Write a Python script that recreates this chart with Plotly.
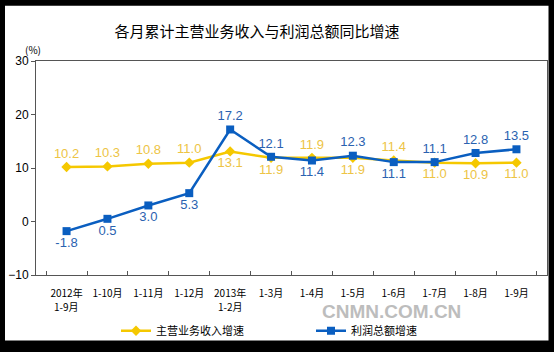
import plotly.graph_objects as go

categories = ["2012年1-9月", "1-10月", "1-11月", "1-12月", "2013年1-2月",
              "1-3月", "1-4月", "1-5月", "1-6月", "1-7月", "1-8月", "1-9月"]
tick_labels = ["2012年", "1-10月", "1-11月", "1-12月", "2013年",
               "1-3月", "1-4月", "1-5月", "1-6月", "1-7月", "1-8月", "1-9月"]
second_row = {"2012年1-9月": "1-9月", "2013年1-2月": "1-2月"}
revenue = [10.2, 10.3, 10.8, 11.0, 13.1, 11.9, 11.9, 11.9, 11.4, 11.0, 10.9, 11.0]
profit = [-1.8, 0.5, 3.0, 5.3, 17.2, 12.1, 11.4, 12.3, 11.1, 11.1, 12.8, 13.5]
revenue_pos = ["top center"] * 4 + ["bottom center", "bottom center", "top center", "bottom center",
                                    "top center", "bottom center", "bottom center", "bottom center"]
profit_pos = ["bottom center"] * 4 + ["top center", "top center", "bottom center", "top center",
                                      "bottom center", "top center", "top center", "top center"]
y_ticks = [-10, 0, 10, 20, 30]

W, H = 554, 352
L, R, T, B = 36, 7, 61, 72
pw, ph = W - L - R, H - T - B

def px(x):
    return (x - L) / pw

def py(y):
    return (H - B - y) / ph

YELLOW = "#F5C800"
BLUE = "#0A5EC0"
CJK = "Noto Sans CJK SC"

fig = go.Figure()
fig.add_trace(go.Scatter(
    x=categories, y=revenue, name="主营业务收入增速", mode="lines+markers+text",
    line=dict(color=YELLOW, width=2.5),
    marker=dict(symbol="diamond", size=8, color=YELLOW),
    text=[f"{v:.1f}" for v in revenue], textposition=revenue_pos,
    textfont=dict(family="Liberation Sans, Arial", size=13, color="#EDC445"),
    cliponaxis=False,
))
fig.add_trace(go.Scatter(
    x=categories, y=profit, name="利润总额增速", mode="lines+markers+text",
    line=dict(color=BLUE, width=2.5),
    marker=dict(symbol="square", size=8, color=BLUE),
    text=[f"{v:.1f}" for v in profit], textposition=profit_pos,
    textfont=dict(family="Liberation Sans, Arial", size=13, color="#2A62B0"),
    cliponaxis=False,
))

annotations = [
    dict(text="(%)", xref="paper", yref="paper", x=px(33), y=py(49), showarrow=False,
         font=dict(family=CJK, size=10, color="black"), xanchor="center", yanchor="middle"),
    dict(text="<b>CNMN.COM.CN</b>", xref="paper", yref="paper", x=px(391), y=py(317),
         showarrow=False, xanchor="center", yanchor="middle",
         font=dict(family="Liberation Sans, Arial", size=19, color="#BDBDBD")),
]
for cat, lab in second_row.items():
    annotations.append(dict(text=lab, xref="x", yref="paper", x=cat, y=py(312),
                            showarrow=False, xanchor="center", yanchor="middle",
                            font=dict(family=CJK, size=10, color="black")))

fig.update_layout(
    width=W, height=H,
    margin=dict(l=L, r=R, t=T, b=B),
    paper_bgcolor="black", plot_bgcolor="white",
    title=dict(text="各月累计主营业务收入与利润总额同比增速", x=257 / W, xanchor="center",
               xref="container",
               y=1 - 32 / H, yanchor="middle", yref="container",
               font=dict(family=CJK, size=15, color="black")),
    showlegend=True,
    legend=dict(orientation="h", x=px(116), xanchor="left", y=py(337), yanchor="middle",
                bgcolor="rgba(0,0,0,0)", font=dict(family=CJK, size=11, color="black"),
                entrywidth=150, itemwidth=30),
    shapes=[dict(type="rect", xref="paper", yref="paper", layer="below",
                 x0=px(5), x1=px(548.5), y0=py(347), y1=py(4.5),
                 fillcolor="white", line=dict(width=0))],
    annotations=annotations,
)
fig.update_xaxes(
    type="category", showgrid=False, zeroline=False, tickangle=0,
    tickvals=categories, ticktext=tick_labels, ticklabelstandoff=9,
    showline=True, linecolor="#555555", linewidth=1, mirror=True,
    ticks="inside", tickson="boundaries", ticklen=4, tickcolor="#555555",
    tickfont=dict(family=CJK, size=10, color="black"),
)
fig.update_yaxes(
    range=[-10, 30], tickvals=y_ticks, showgrid=False, zeroline=False,
    showline=True, linecolor="#555555", linewidth=1, mirror=True,
    ticks="outside", ticklen=4, tickcolor="#555555",
    tickfont=dict(family="Liberation Sans, Arial", size=12, color="black"),
)
fig.write_html("out.html")
